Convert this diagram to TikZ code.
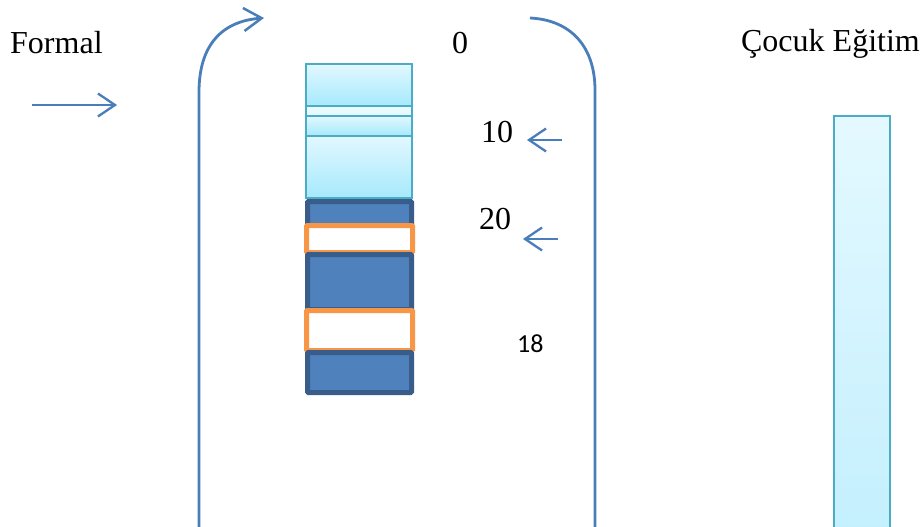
\documentclass[tikz,border=0pt]{standalone}
\usepackage{fontspec}
\setmainfont{Liberation Serif}
\newfontfamily\calibri{Carlito}
\usetikzlibrary{arrows.meta}
\definecolor{arrowblue}{HTML}{4A7EBB}
\definecolor{lightborder}{HTML}{4BACC6}
\definecolor{lighttop}{HTML}{E2F8FF}
\definecolor{lightbot}{HTML}{A6E9FC}
\definecolor{bartop}{HTML}{E4F9FF}
\definecolor{barbot}{HTML}{C3EFFE}
\definecolor{darkfill}{HTML}{4F81BD}
\definecolor{darkborder}{HTML}{385D8A}
\definecolor{orangeb}{HTML}{F79646}
\begin{document}
\begin{tikzpicture}[x=1pt,y=-1pt,
  lbl/.style={inner sep=0pt, font=\fontsize{32}{38}\selectfont},
  sanslbl/.style={inner sep=0pt, font=\calibri\fontsize{26}{31}\selectfont},
  barb/.style={-{Straight Barb[length=17pt,width=23pt,line width=2.3pt]}},
  arr/.style={draw=arrowblue, line width=2.3pt, barb},
  guide/.style={draw=arrowblue, line width=2.8pt},
  lightbox/.style={draw=lightborder, line width=1.8pt, top color=lighttop, bottom color=lightbot},
  barbox/.style={draw=lightborder, line width=2pt, top color=bartop, bottom color=barbot},
  darkbox/.style={draw=darkborder, fill=darkfill, line width=5pt, rounded corners=1pt},
  orangebox/.style={draw=orangeb, fill=white, line width=5pt, rounded corners=1pt}]
\clip (0,0) rectangle (923,527);
\fill[white] (0,0) rectangle (923,527);

% texts
\node[lbl, anchor=base west] (formal) at (10,53) {Formal};
\node[lbl, anchor=base] (zero) at (460,54) {0};
\node[lbl, anchor=base east] (cocuk) at (920,52) {Çocuk Eğitim};
\node[lbl, anchor=base west] (ten) at (481,142) {10};
\node[lbl, anchor=base west] (twenty) at (479,229) {20};
\node[sanslbl, anchor=base west] (eighteen) at (517,352) {18};

% guide curves
\coordinate (lgbot) at (199,540);
\coordinate (lgbend) at (199,92);
\coordinate (lgtip) at (264,18);
\draw[guide, -{Straight Barb[length=18pt,width=23pt,line width=2.5pt]}]
  (lgbot) -- (lgbend) .. controls (199,45) and (222,21) .. (lgtip);
\coordinate (rgstart) at (530,18);
\coordinate (rgbend) at (595,90);
\coordinate (rgbot) at (595,540);
\draw[guide] (rgstart) .. controls (572,20) and (595,48) .. (rgbend) -- (rgbot);

% small arrows
\coordinate (fa1) at (32,105);
\coordinate (fa2) at (117,105);
\draw[arr] (fa1) -- (fa2);
\coordinate (ta1) at (562,140);
\coordinate (ta2) at (527,140);
\draw[arr] (ta1) -- (ta2);
\coordinate (wa1) at (558,239);
\coordinate (wa2) at (523,239);
\draw[arr] (wa1) -- (wa2);

% light stack
\path[lightbox] (306,64) rectangle (412,198);
\path[lightbox] (306,64) rectangle (412,106);
\path[lightbox, top color=lighttop!60!white, bottom color=lighttop] (306,106) rectangle (412,116);
\path[lightbox] (306,116) rectangle (412,136);
\path[lightbox] (306,136) rectangle (412,198);

% dark / orange stack
\path[darkbox] (307.5,201.5) rectangle (411.5,225.5);
\path[orangebox] (306.5,225.5) rectangle (412.5,252.5);
\path[darkbox] (307.5,254.5) rectangle (411.5,309.5);
\path[orangebox] (306.5,310.5) rectangle (412.5,350.5);
\path[darkbox] (307.5,352.5) rectangle (411.5,392.5);

% right bar
\path[barbox] (834,116) rectangle (890,545);
\end{tikzpicture}
\end{document}
